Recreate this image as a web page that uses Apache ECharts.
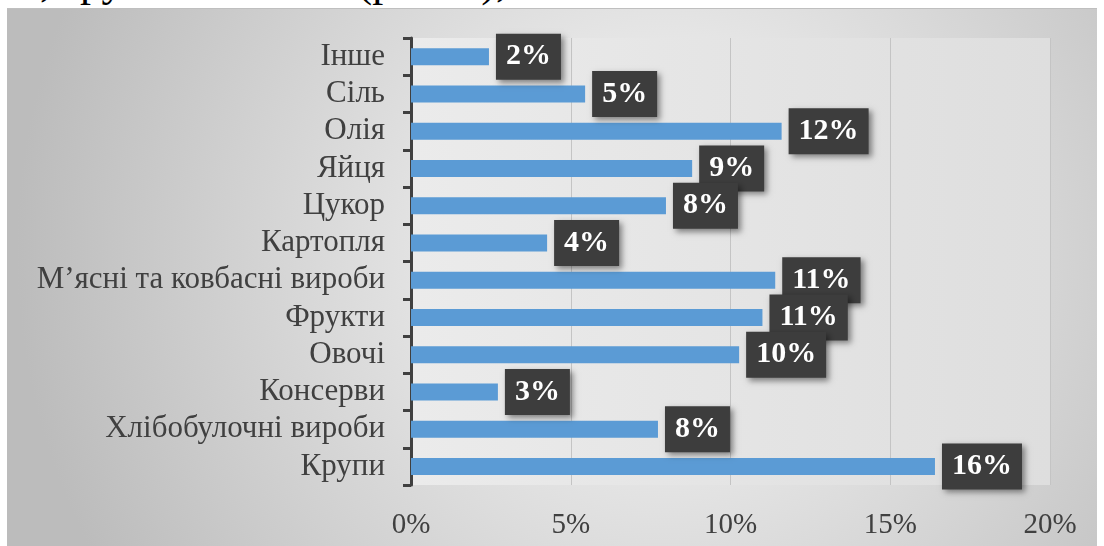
<!DOCTYPE html>
<html>
<head>
<meta charset="utf-8">
<script src="https://cdn.jsdelivr.net/npm/echarts@6/dist/echarts.min.js"></script>
<style>
  html, body { margin: 0; padding: 0; background: #fff; width: 1104px; height: 546px; overflow: hidden; }
  .pagetext {
    position: absolute; left: 40px; top: -40px;
    font-family: "Liberation Serif", serif; font-size: 44px; line-height: 44px;
    color: #000; white-space: pre;
  }
  #chart {
    position: absolute; left: 7px; top: 8px; width: 1090px; height: 538px;
    border-top: 1px solid #bfbfbf; box-sizing: border-box;
  }
</style>
</head>
<body>
<div class="pagetext">, групи                 (рис. 3),</div>
<div id="chart"></div>
<script>
  // top to bottom, as in the picture
  let categories = ['Інше', 'Сіль', 'Олія', 'Яйця', 'Цукор', 'Картопля',
    'М’ясні та ковбасні вироби', 'Фрукти', 'Овочі', 'Консерви',
    'Хлібобулочні вироби', 'Крупи'];
  let shares = [2.44, 5.45, 11.6, 8.8, 7.98, 4.26, 11.4, 11.0, 10.27, 2.72, 7.73, 16.4];
  let xTicks = [0, 5, 10, 15, 20];

  let myChart = echarts.init(document.getElementById('chart'));
  myChart.setOption({
    animation: false,
    backgroundColor: new echarts.graphic.RadialGradient(0.6, 0.45, 1.2, [
      {offset: 0, color: '#fafafa'},
      {offset: 1, color: '#bcbcbc'}
    ]),
    grid: {
      left: 404,
      right: 47,
      top: 29,
      bottom: 61,
      show: true,
      borderWidth: 0,
      backgroundColor: new echarts.graphic.LinearGradient(0, 0, 1, 0, [
        {offset: 0, color: '#ebebeb'},
        {offset: 1, color: '#dedede'}
      ])
    },
    xAxis: {
      type: 'value',
      min: xTicks[0],
      max: xTicks[xTicks.length - 1],
      interval: 5,
      axisLine: {show: false},
      axisTick: {show: false},
      axisLabel: {
        margin: 26,
        formatter: '{value}%',
        color: '#404040',
        fontFamily: 'Liberation Serif',
        fontSize: 29
      },
      splitLine: {
        lineStyle: {color: '#c4c4c4', width: 1}
      }
    },
    yAxis: {
      type: 'category',
      inverse: true,
      data: categories,
      axisLine: {
        lineStyle: {color: '#404040', width: 3}
      },
      axisTick: {
        show: true,
        interval: 0,
        length: 8,
        lineStyle: {color: '#404040', width: 3}
      },
      axisLabel: {
        interval: 0,
        margin: 26,
        color: '#404040',
        fontFamily: 'Liberation Serif',
        fontSize: 31
      }
    },
    series: [
      {
        type: 'bar',
        data: shares,
        barWidth: 17,
        itemStyle: {color: '#5b9bd5'},
        label: {
          show: true,
          position: 'right',
          distance: 7,
          formatter: function (params) {
            return Math.round(params.value) + '%';
          },
          color: '#fff',
          fontFamily: 'Liberation Serif',
          fontWeight: 'bold',
          fontSize: 30,
          lineHeight: 30,
          backgroundColor: '#3d3d3d',
          padding: [8, 10],
          shadowColor: 'rgba(0,0,0,0.45)',
          shadowBlur: 6,
          shadowOffsetX: 3,
          shadowOffsetY: 3
        }
      }
    ]
  });
</script>
</body>
</html>
